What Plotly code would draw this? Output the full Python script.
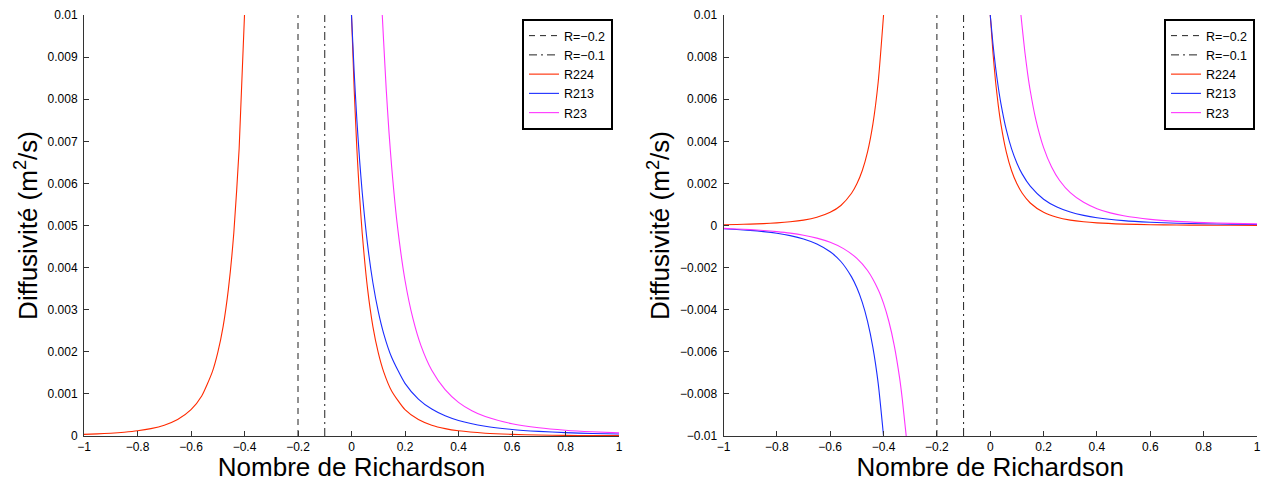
import plotly.graph_objects as go

# ---------------- data ----------------
x_ticks = [-1, -0.8, -0.6, -0.4, -0.2, 0, 0.2, 0.4, 0.6, 0.8, 1]
x_tick_text = ["\u22121", "\u22120.8", "\u22120.6", "\u22120.4", "\u22120.2", "0", "0.2", "0.4", "0.6", "0.8", "1"]

y1_ticks = [0, 0.001, 0.002, 0.003, 0.004, 0.005, 0.006, 0.007, 0.008, 0.009, 0.01]
y1_tick_text = ["0", "0.001", "0.002", "0.003", "0.004", "0.005", "0.006", "0.007", "0.008", "0.009", "0.01"]
y2_ticks = [-0.01, -0.008, -0.006, -0.004, -0.002, 0, 0.002, 0.004, 0.006, 0.008, 0.01]
y2_tick_text = ["\u22120.01", "\u22120.008", "\u22120.006", "\u22120.004", "\u22120.002", "0",
                "0.002", "0.004", "0.006", "0.008", "0.01"]

x_range = [-1, 1]
y1_range = [0, 0.01]
y2_range = [-0.01, 0.01]

ref_values = [-0.2, -0.1]
ref_names = ["R=\u22120.2", "R=\u22120.1"]

# R224 (red)
r224_x_left = [-1.0, -0.95, -0.9, -0.85, -0.8, -0.75, -0.7, -0.65, -0.6, -0.56, -0.52, -0.5,
               -0.48, -0.46, -0.44, -0.42, -0.4]
r224_y_left = [0.000039, 0.000051, 0.000067, 0.00009, 0.000123, 0.000175, 0.000256, 0.00039,
               0.000625, 0.00095, 0.00153, 0.00198, 0.0026, 0.0035, 0.00482, 0.00683, 0.01]
r224_x_right = [0, 0.01, 0.02, 0.03, 0.04, 0.06, 0.08, 0.1, 0.12, 0.15, 0.2, 0.25, 0.3, 0.35,
                0.4, 0.5, 0.6, 0.7, 0.8, 0.9, 1.0]
r224_y_right = [0.01, 0.00823, 0.00683, 0.00572, 0.00482, 0.0035, 0.0026, 0.00198, 0.00153,
                0.00107, 0.000625, 0.00039, 0.000256, 0.000175, 0.000123, 0.000067, 0.000039,
                0.000024, 0.000016, 0.000011, 0.000008]

# R213 (blue)
r213_x_left = [-1.0, -0.95, -0.9, -0.85, -0.8, -0.75, -0.7, -0.65, -0.6, -0.56, -0.52, -0.5,
               -0.48, -0.46, -0.44, -0.42, -0.4]
r213_y_left = [-0.000156, -0.00019, -0.000233, -0.000291, -0.00037, -0.000481, -0.00064,
               -0.000878, -0.00125, -0.00171, -0.00244, -0.00296, -0.00364, -0.00455, -0.00579,
               -0.00751, -0.01]
r213_x_right = [0, 0.01, 0.02, 0.03, 0.04, 0.06, 0.08, 0.1, 0.12, 0.15, 0.2, 0.25, 0.3, 0.35,
                0.4, 0.5, 0.6, 0.7, 0.8, 0.9, 1.0]
r213_y_right = [0.01, 0.00864, 0.00751, 0.00658, 0.00579, 0.00455, 0.00364, 0.00296, 0.00244,
                0.00187, 0.00125, 0.000878, 0.00064, 0.000481, 0.00037, 0.000233, 0.000156,
                0.00011, 0.00008, 0.00006, 0.000046]

# R23 (magenta)
r23_x_left = [-1.0, -0.95, -0.9, -0.85, -0.8, -0.75, -0.7, -0.65, -0.6, -0.55, -0.5, -0.46,
              -0.42, -0.4, -0.38, -0.36, -0.34, -0.33, -0.315]
r23_y_left = [-0.000137, -0.000163, -0.000195, -0.000237, -0.000292, -0.000364, -0.000463,
              -0.000601, -0.0008, -0.0011, -0.00156, -0.00214, -0.00305, -0.0037, -0.00456,
              -0.00569, -0.00723, -0.00822, -0.01]
r23_x_right = [0.115, 0.12, 0.13, 0.14, 0.15, 0.17, 0.2, 0.23, 0.26, 0.3, 0.35, 0.4, 0.45, 0.5,
               0.6, 0.7, 0.8, 0.9, 1.0]
r23_y_right = [0.01, 0.00939, 0.00822, 0.00723, 0.0064, 0.00508, 0.0037, 0.00278, 0.00214,
               0.00156, 0.0011, 0.0008, 0.000601, 0.000463, 0.000292, 0.000195, 0.000137,
               0.0001, 0.000075]

series = [
    ("R224", "#ff2a00", r224_x_left, r224_y_left, r224_x_right, r224_y_right),
    ("R213", "#1a2cff", r213_x_left, r213_y_left, r213_x_right, r213_y_right),
    ("R23", "#ff33ff", r23_x_left, r23_y_left, r23_x_right, r23_y_right),
]

# ---------------- figure ----------------
FONT = "Liberation Sans, Arial, Helvetica, sans-serif"
OFF = 8                      # default page body margin
W, H = 1270 - OFF, 482 - OFF
dashes = ["6px,5px", "8px,4px,2px,4px"]

def px_x(p):
    return (p - OFF) / W

def px_y(p):
    return 1 - (p - OFF) / H

fig = go.Figure()

panels = [("x", "y", "legend", y1_range), ("x2", "y2", "legend2", y2_range)]
for xa, ya, lg, yr in panels:
    for v, name, d in zip(ref_values, ref_names, dashes):
        fig.add_trace(go.Scatter(
            x=[v, v], y=[yr[0], yr[1]], mode="lines", name=name,
            line=dict(color="#222222", width=1, dash=d),
            xaxis=xa, yaxis=ya, legend=lg, hoverinfo="skip"))
    for name, col, xl, yl, xr, yrr in series:
        fig.add_trace(go.Scatter(
            x=list(xl) + [None] + list(xr), y=list(yl) + [None] + list(yrr),
            mode="lines", name=name,
            line=dict(color=col, width=1.1, shape="spline", smoothing=0.6),
            xaxis=xa, yaxis=ya, legend=lg))

xd1 = [px_x(84), px_x(619)]
xd2 = [px_x(723.5), px_x(1257)]
yd = [px_y(436), px_y(15)]

axis_common = dict(showline=True, linecolor="#333333", linewidth=1, ticks="inside",
                   ticklen=5, tickcolor="#333333", showgrid=False, zeroline=False,
                   automargin=False,
                   tickfont=dict(family=FONT, size=12, color="black"))

xt = dict(text="Nombre de Richardson", font=dict(family=FONT, size=26, color="black"), standoff=0)
yt = dict(text="Diffusivité (m<sup>2</sup>/s)", font=dict(family=FONT, size=26, color="black"), standoff=2)

leg_common = dict(xanchor="right", yanchor="top", bgcolor="white", bordercolor="black",
                  borderwidth=2, entrywidth=48, entrywidthmode="pixels",
                  font=dict(family=FONT, size=12.5, color="black"))

fig.update_layout(
    width=W, height=H, autosize=False,
    margin=dict(l=0, r=0, t=0, b=0, autoexpand=False),
    paper_bgcolor="white", plot_bgcolor="white",
    font=dict(family=FONT, color="black"),
    xaxis=dict(domain=xd1, range=x_range, tickvals=x_ticks, ticktext=x_tick_text,
               anchor="y", title=xt, **axis_common),
    yaxis=dict(domain=yd, range=y1_range, tickvals=y1_ticks, ticktext=y1_tick_text,
               anchor="x", title=yt, ticklabelstandoff=3, **axis_common),
    xaxis2=dict(domain=xd2, range=x_range, tickvals=x_ticks, ticktext=x_tick_text,
                anchor="y2", title=xt, **axis_common),
    yaxis2=dict(domain=yd, range=y2_range, tickvals=y2_ticks, ticktext=y2_tick_text,
                anchor="x2", title=yt, ticklabelstandoff=3, **axis_common),
    legend=dict(x=px_x(613), y=px_y(19), **leg_common),
    legend2=dict(x=px_x(1255), y=px_y(19), **leg_common),
    showlegend=True,
)

fig.write_html("out.html")
